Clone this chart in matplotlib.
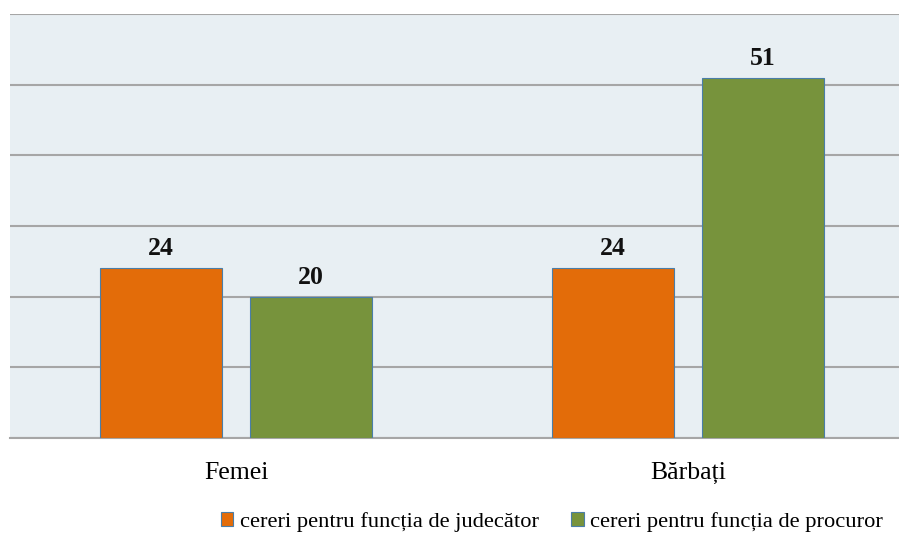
import matplotlib
matplotlib.use("Agg")
import matplotlib.pyplot as plt
import numpy as np
from matplotlib.patches import Patch

categories = ["Femei", "Bărbați"]
series_names = ["cereri pentru funcția de judecător", "cereri pentru funcția de procuror"]
judecator = [24, 24]
procuror = [20, 51]
colors = ["#E36C09", "#77933C"]

plt.rcParams['font.family'] = ['Liberation Serif', 'DejaVu Serif']

W, H = 899, 536
fig = plt.figure(figsize=(W/100, H/100), dpi=100)
left, right = 10, 914
top, bottom = 14, 438
ax = fig.add_axes([left/W, 1-bottom/H, (right-left)/W, (bottom-top)/H])
ax.set_facecolor("#E8EFF3")

x = np.arange(len(categories))
off = 0.166
w = 0.268
for i, (vals, c) in enumerate(zip([judecator, procuror], colors)):
    pos = x + (-off if i == 0 else off)
    bars = ax.bar(pos, vals, width=w, color=c, edgecolor="#4A7EA8", linewidth=0.8, zorder=3)
    for b, v in zip(bars, vals):
        ax.annotate(str(v), (b.get_x()+b.get_width()/2, v), xytext=(0, 8),
                    textcoords="offset pixels", ha="center", va="bottom",
                    fontsize=18.5, fontweight="bold", color="#111111")

ax.set_xlim(-0.5, 1.5)
ax.set_ylim(0, 60)
ax.set_yticks(np.arange(0, 61, 10))
ax.yaxis.grid(True, color="#A6A6A6", linewidth=1.5, zorder=1)
ax.set_axisbelow(True)
ax.tick_params(axis='y', left=False, labelleft=False)
ax.tick_params(axis='x', bottom=False, labelsize=18.5, pad=14)
ax.set_xticks(x)
ax.set_xticklabels(categories)
for s in ["left", "right", "top"]:
    ax.spines[s].set_visible(False)
ax.spines["bottom"].set_color("#A6A6A6")
ax.spines["bottom"].set_linewidth(1.5)

handles = [Patch(facecolor=c, edgecolor="#4A7EA8", linewidth=0.8) for c in colors]
fig.legend(handles, series_names, loc="center", bbox_to_anchor=(552/W, 1-522/H),
           ncol=2, frameon=False, fontsize=16.2, handlelength=0.55, handleheight=0.55,
           handletextpad=0.3, columnspacing=1.45)

fig.savefig("out.png", dpi=100)
